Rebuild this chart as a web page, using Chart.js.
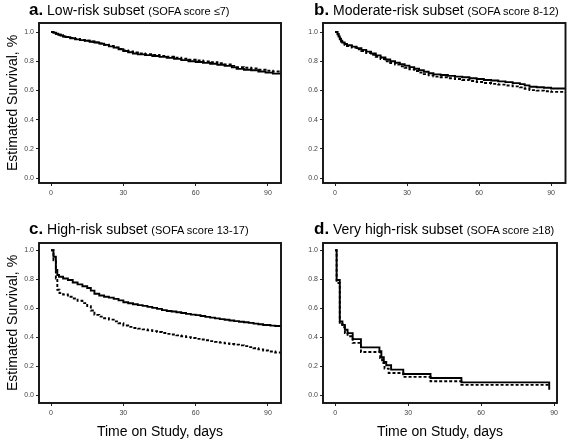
<!DOCTYPE html>
<html>
<head>
<meta charset="utf-8">
<script src="https://cdn.jsdelivr.net/npm/chart.js@4/dist/chart.umd.min.js"></script>
<style>
html,body{margin:0;padding:0;background:#fff;}
#wrap{position:relative;width:567px;height:441px;overflow:hidden;font-family:"Liberation Sans",Arial,sans-serif;background:#fff;}
canvas{position:absolute;}
.hd{position:absolute;white-space:nowrap;font-size:17px;line-height:17px;color:#000;}
.hd b{font-size:17px;font-weight:bold;}
.hd .m{font-size:14px;}
.hd .s{font-size:11px;}
</style>
</head>
<body>
<div id="wrap">
  <canvas id="ca" width="283" height="220" style="left:0px;top:0px"></canvas>
  <canvas id="cb" width="284" height="220" style="left:283px;top:0px"></canvas>
  <canvas id="cc" width="283" height="221" style="left:0px;top:220px"></canvas>
  <canvas id="cd" width="284" height="221" style="left:283px;top:220px"></canvas>
  <div class="hd" style="left:29px;top:1px"><b>a.</b><span class="m"> Low-risk subset </span><span class="s">(SOFA score ≤7)</span></div>
  <div class="hd" style="left:314px;top:1px"><b>b.</b><span class="m"> Moderate-risk subset </span><span class="s">(SOFA score 8-12)</span></div>
  <div class="hd" style="left:29px;top:220px"><b>c.</b><span class="m"> High-risk subset </span><span class="s">(SOFA score 13-17)</span></div>
  <div class="hd" style="left:314px;top:220px"><b>d.</b><span class="m"> Very high-risk subset </span><span class="s">(SOFA score ≥18)</span></div>
</div>
<script>
// ---- Tick labels ----
const xTicks = [0, 30, 60, 90];
const yTicks = [0.0, 0.2, 0.4, 0.6, 0.8, 1.0];
const xTitle = 'Time on Study, days';
const yTitle = 'Estimated Survival, %';

// ---- Panel a: Low-risk (SOFA <=7) ----
const aDaysSolid  = [0,1,2,3,4,5,6,8,10,12,14,16,18,20,22,24,26,28,30,32,34,36,39,42,45,48,51,54,57,60,63,66,69,72,75,77,80,83,86,89,92,96];
const aSolid      = [1.0,0.995,0.988,0.982,0.976,0.970,0.965,0.958,0.950,0.945,0.940,0.934,0.928,0.921,0.912,0.902,0.893,0.882,0.870,0.862,0.853,0.847,0.842,0.836,0.830,0.823,0.816,0.808,0.800,0.795,0.789,0.783,0.776,0.768,0.758,0.748,0.742,0.738,0.730,0.722,0.715,0.713];
const aDaysDashed = [0,1,2,3,4,5,6,8,10,12,14,16,18,20,22,24,26,28,30,32,34,36,39,42,45,48,51,54,57,60,63,66,69,72,75,77,80,83,86,89,92,96];
const aDashed     = [1.0,0.994,0.988,0.982,0.977,0.971,0.966,0.959,0.952,0.946,0.941,0.935,0.929,0.922,0.913,0.904,0.895,0.885,0.874,0.867,0.860,0.854,0.849,0.843,0.837,0.831,0.825,0.817,0.810,0.805,0.799,0.793,0.786,0.778,0.768,0.760,0.755,0.750,0.742,0.735,0.730,0.728];

// ---- Panel b: Moderate-risk (SOFA 8-12) ----
const bDaysSolid  = [0,1,1.5,2,2.5,3,4,5,7,9,11,13,15,17,19,21,23,25,27,29,31,33,35,37,39,41,44,47,50,53,56,59,62,65,68,71,74,77,79,81,84,87,90,96];
const bSolid      = [1.0,0.985,0.970,0.955,0.940,0.928,0.918,0.910,0.900,0.890,0.878,0.866,0.853,0.840,0.826,0.812,0.800,0.790,0.780,0.770,0.760,0.749,0.738,0.728,0.718,0.710,0.706,0.700,0.695,0.690,0.684,0.678,0.672,0.668,0.662,0.657,0.650,0.643,0.635,0.625,0.622,0.618,0.613,0.610];
const bDaysDashed = [0,1,1.5,2,2.5,3,4,5,7,9,11,13,15,17,19,21,23,25,27,29,31,33,35,37,39,41,44,47,50,53,56,59,62,65,68,71,74,77,79,81,84,87,90,96];
const bDashed     = [1.0,0.985,0.965,0.950,0.935,0.922,0.912,0.904,0.893,0.882,0.870,0.857,0.844,0.830,0.815,0.800,0.788,0.777,0.766,0.755,0.745,0.733,0.722,0.712,0.703,0.695,0.690,0.684,0.678,0.672,0.665,0.658,0.651,0.645,0.640,0.634,0.628,0.621,0.612,0.602,0.599,0.595,0.590,0.586];

// ---- Panel c: High-risk (SOFA 13-17) ----
const cDaysSolid  = [0,1,2,2.6,3.3,5,7,9,11,13,15,16.5,18,20,22,24,26,28,30,32,34,36,38,40,42,44,46,48,50,52,54,56,58,60,62,64,66,68,70,72,74,76,78,80,82,84,86,88,91,93,96];
const cSolid      = [1.0,0.955,0.865,0.830,0.818,0.805,0.795,0.778,0.765,0.752,0.740,0.722,0.700,0.688,0.680,0.674,0.665,0.655,0.642,0.635,0.628,0.622,0.617,0.610,0.603,0.596,0.588,0.582,0.578,0.573,0.568,0.562,0.557,0.553,0.547,0.541,0.536,0.531,0.526,0.521,0.516,0.512,0.508,0.504,0.500,0.495,0.490,0.485,0.481,0.478,0.478];
const cDaysDashed = [0,1,2,2.6,3.5,5,7,9,11,13,15,16.5,18,20,22,24,26,28,30,32,34,36,38,40,42,44,46,48,50,52,54,56,58,60,62,64,66,68,70,72,74,76,78,80,82,84,86,88,90,93,96];
const cDashed     = [1.0,0.930,0.806,0.728,0.705,0.695,0.680,0.668,0.652,0.636,0.615,0.585,0.555,0.543,0.532,0.522,0.510,0.497,0.482,0.472,0.465,0.460,0.455,0.449,0.443,0.437,0.430,0.424,0.420,0.414,0.408,0.402,0.396,0.390,0.385,0.380,0.374,0.369,0.364,0.359,0.354,0.350,0.345,0.340,0.333,0.325,0.317,0.310,0.303,0.296,0.293];

// ---- Panel d: Very high-risk (SOFA >=18) ----
const dDaysSolid  = [0,0.6,1.9,3,4,5.1,7.2,10.6,18.2,19,20,21,23,28,39.2,51.9,88];
const dSolid      = [1.0,0.795,0.509,0.486,0.452,0.429,0.388,0.331,0.304,0.263,0.231,0.208,0.178,0.148,0.120,0.090,0.040];
const dDaysDashed = [0,0.6,1.9,3,4,5.1,7.2,10.6,18.5,19.3,20.3,22,28,39.2,51.9,88];
const dDashed     = [1.0,0.775,0.490,0.470,0.430,0.408,0.362,0.299,0.258,0.224,0.185,0.155,0.128,0.098,0.073,0.073];

const FAMILY = '"Liberation Sans", Arial, sans-serif';

const boxPlugin = {
  id: 'box',
  afterDatasetsDraw(chart) {
    const {ctx, chartArea: a} = chart;
    ctx.save();
    ctx.strokeStyle = '#111';
    ctx.lineWidth = 1.9;
    ctx.strokeRect(a.left, a.top, a.right - a.left, a.bottom - a.top);
    ctx.restore();
  }
};

function pts(xs, ys) { return xs.map((x, i) => ({x: x, y: ys[i]})); }

function makePanel(id, p) {
  new Chart(document.getElementById(id), {
    type: 'line',
    data: {
      datasets: [
        {data: pts(p.ts, p.ss), borderColor: '#000', borderWidth: 1.9, stepped: true, pointRadius: 0, fill: false},
        {data: pts(p.td, p.sd), borderColor: '#000', borderWidth: 1.9, borderDash: [3, 2], stepped: true, pointRadius: 0, fill: false}
      ]
    },
    options: {
      responsive: false,
      animation: false,
      events: [],
      layout: {padding: p.pad},
      plugins: {legend: {display: false}, tooltip: {enabled: false}, title: {display: false}},
      scales: {
        x: {
          type: 'linear', min: p.xmin, max: p.xmax,
          afterBuildTicks: s => { s.ticks = xTicks.map(v => ({value: v})); },
          afterFit: s => { s.height = p.xH; },
          grid: {drawOnChartArea: false, drawTicks: true, tickLength: 3, color: '#222', lineWidth: 1},
          border: {display: false},
          ticks: {font: {size: 7, family: FAMILY}, color: '#444', padding: 3, maxRotation: 0, autoSkip: false},
          title: {display: p.xTitle, text: xTitle, color: '#000', font: {size: 14, family: FAMILY}, padding: {top: 0, bottom: 0}}
        },
        y: {
          type: 'linear', min: p.ymin, max: p.ymax,
          afterBuildTicks: s => { s.ticks = yTicks.map(v => ({value: v})); },
          afterFit: s => { s.width = p.yW; },
          grid: {drawOnChartArea: false, drawTicks: true, tickLength: 3, color: '#222', lineWidth: 1},
          border: {display: false},
          ticks: {font: {size: 7, family: FAMILY}, color: '#444', padding: 2, callback: v => Number(v).toFixed(1)},
          title: {display: p.yTitle, text: yTitle, color: '#000', font: {size: 14, family: FAMILY}, padding: {top: 5, bottom: 0}}
        }
      }
    },
    plugins: [boxPlugin]
  });
}

makePanel('ca', {ts: aDaysSolid, ss: aSolid, td: aDaysDashed, sd: aDashed,
  pad: {left: 0, right: 2, top: 23, bottom: 0}, yW: 39, xH: 37,
  xmin: -5, xmax: 95.4, ymin: -0.034, ymax: 1.062, xTitle: false, yTitle: true});
makePanel('cb', {ts: bDaysSolid, ss: bSolid, td: bDaysDashed, sd: bDashed,
  pad: {left: 0, right: 1.5, top: 23, bottom: 0}, yW: 40, xH: 37,
  xmin: -5, xmax: 96, ymin: -0.034, ymax: 1.062, xTitle: false, yTitle: false});
makePanel('cc', {ts: cDaysSolid, ss: cSolid, td: cDaysDashed, sd: cDashed,
  pad: {left: 0, right: 2, top: 23, bottom: 0}, yW: 39, xH: 38,
  xmin: -5, xmax: 95.4, ymin: -0.052, ymax: 1.05, xTitle: true, yTitle: true});
makePanel('cd', {ts: dDaysSolid, ss: dSolid, td: dDaysDashed, sd: dDashed,
  pad: {left: 0, right: 10, top: 23, bottom: 0}, yW: 40, xH: 38,
  xmin: -5, xmax: 91.2, ymin: -0.052, ymax: 1.05, xTitle: true, yTitle: false});
</script>
</body>
</html>
